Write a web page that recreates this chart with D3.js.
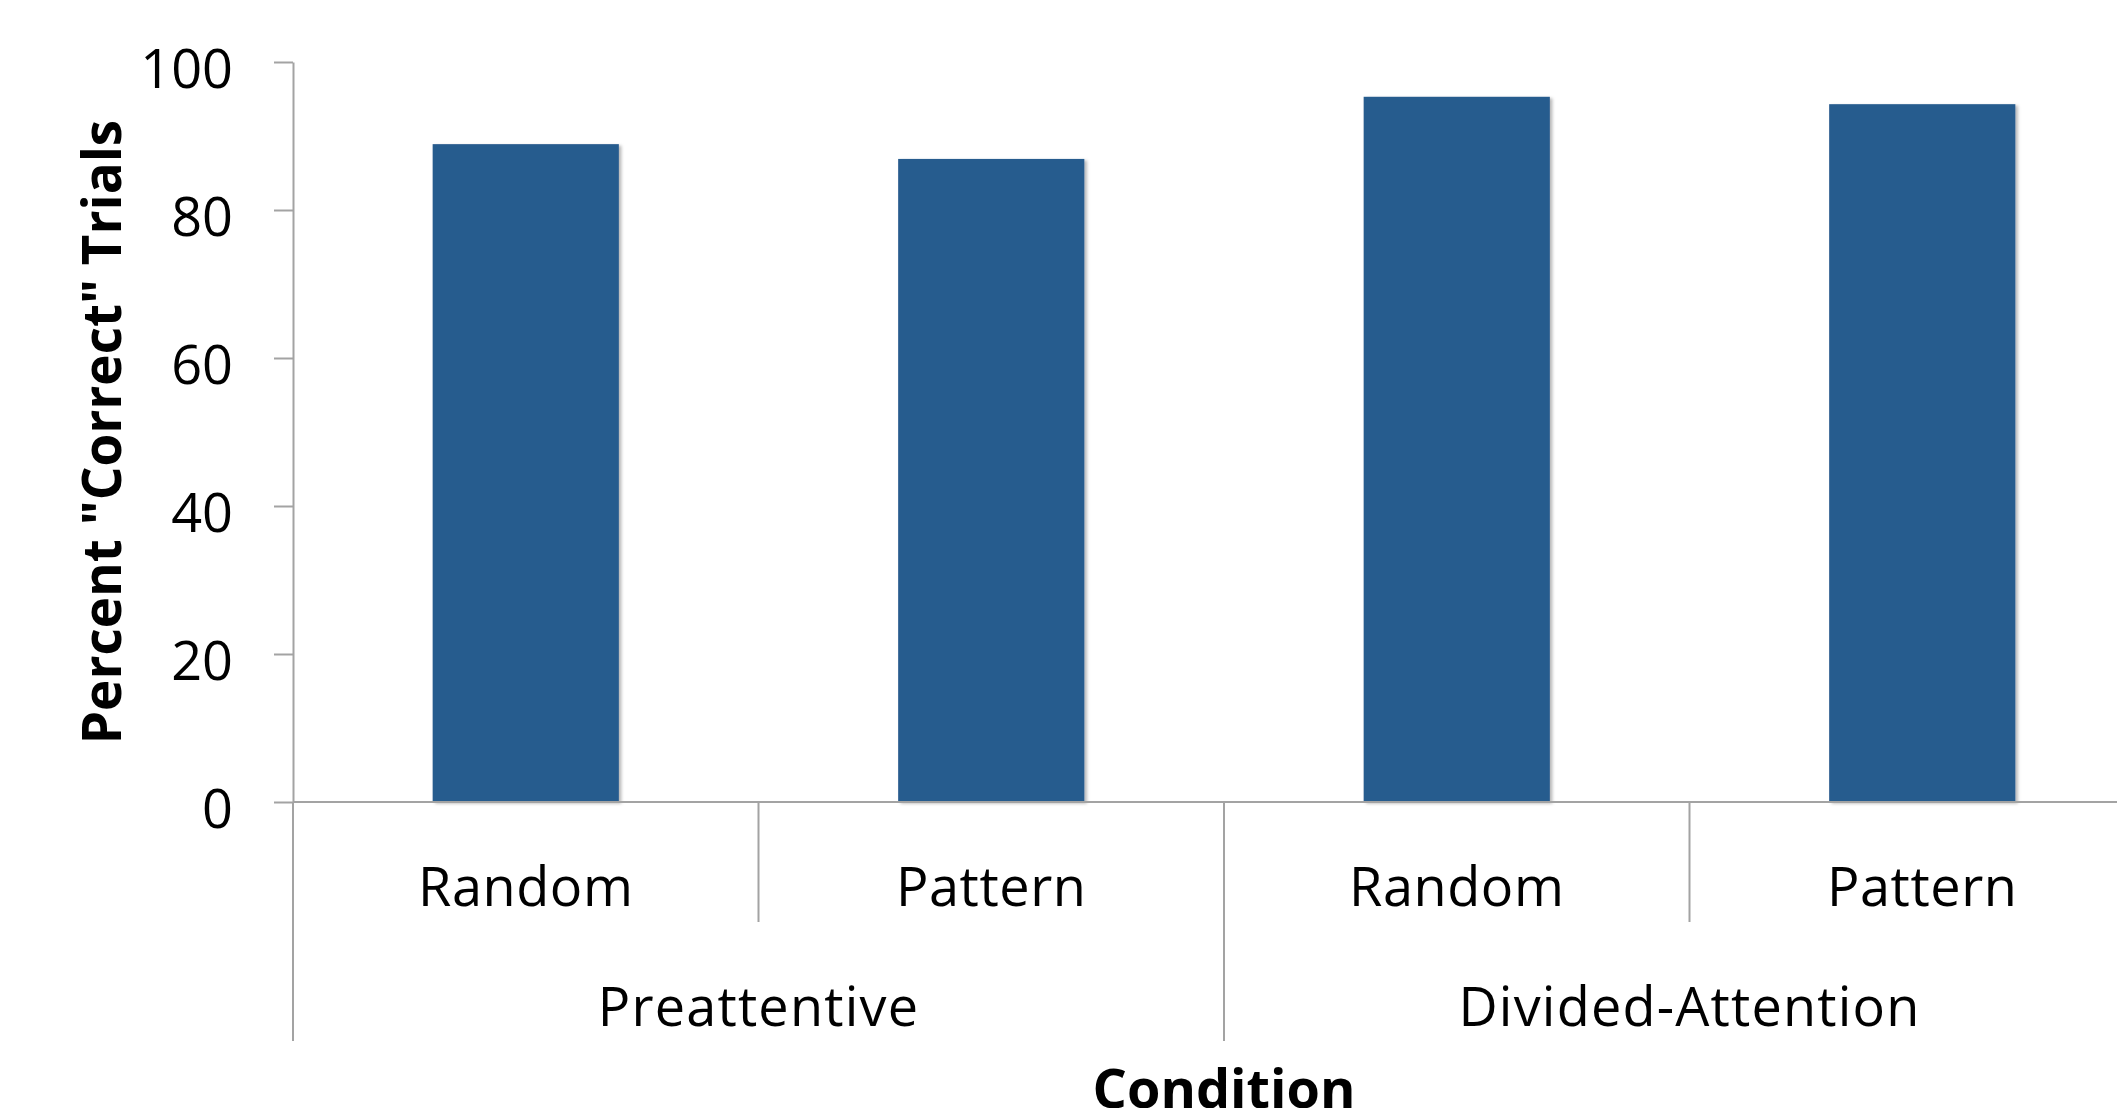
<!DOCTYPE html>
<html>
<head>
<meta charset="utf-8">
<script src="https://cdn.jsdelivr.net/npm/d3@7/dist/d3.min.js"></script>
<style>
  html, body { margin: 0; padding: 0; background: #ffffff; overflow: hidden; }
  svg { display: block; font-family: "Open Sans", "Noto Sans", sans-serif; }
</style>
</head>
<body>
<svg id="chart" width="2117" height="1108"></svg>
<script>
// Percent of "correct" trials by condition and display type
const groups = ["Preattentive", "Divided-Attention"];
const displayTypes = ["Random", "Pattern", "Random", "Pattern"];
const barGroups = ["Preattentive", "Preattentive", "Divided-Attention", "Divided-Attention"];
const percentCorrect = [88.9, 86.9, 95.3, 94.3];
const yTicks = [0, 20, 40, 60, 80, 100];
const yTitle = 'Percent "Correct" Trials';
const xTitle = "Condition";

(function draw() {
  const svg = d3.select("#chart");
  const plotLeft = 293, plotRight = 2155, plotTop = 62, plotBottom = 802;
  const axisColor = "#a3a3a3";
  const barColor = "#285c8e";

  const bars = displayTypes.map((t, i) => ({ key: i, type: t, group: barGroups[i], value: percentCorrect[i] }));

  const x = d3.scaleBand().domain(bars.map(d => d.key)).range([plotLeft, plotRight])
    .paddingInner(0.6).paddingOuter(0.3);
  const xCat = d3.scaleBand().domain(bars.map(d => d.key)).range([plotLeft, plotRight]).padding(0);
  const xGroup = d3.scaleBand().domain(groups).range([plotLeft, plotRight]).padding(0);
  const y = d3.scaleLinear().domain([0, 100]).range([plotBottom, plotTop]);

  const defs = svg.append("defs");
  const f = defs.append("filter").attr("id", "barShadow")
    .attr("x", "-10%").attr("y", "-10%").attr("width", "130%").attr("height", "130%");
  f.append("feDropShadow").attr("dx", 2.5).attr("dy", 1.5).attr("stdDeviation", 1.8)
    .attr("flood-color", "#000").attr("flood-opacity", 0.28);

  // bars
  svg.append("g").selectAll("rect").data(bars).join("rect")
    .attr("x", d => x(d.key))
    .attr("y", d => y(d.value))
    .attr("width", x.bandwidth())
    .attr("height", d => y(0) - y(d.value))
    .attr("fill", barColor)
    .attr("filter", "url(#barShadow)");

  // y axis
  const yAxis = d3.axisLeft(y).tickValues(yTicks).tickSize(19).tickSizeOuter(0).tickPadding(41);
  const gy = svg.append("g").attr("transform", `translate(${plotLeft},0)`).call(yAxis);
  gy.select(".domain").attr("stroke", axisColor).attr("stroke-width", 2);
  gy.selectAll(".tick line").attr("stroke", axisColor).attr("stroke-width", 2);
  gy.selectAll(".tick text")
    .attr("font-family", '"Open Sans", sans-serif')
    .attr("font-size", 54).attr("fill", "#000").attr("dy", "0.47em");

  // x baseline
  svg.append("line")
    .attr("x1", plotLeft).attr("x2", plotRight).attr("y1", y(0)).attr("y2", y(0))
    .attr("stroke", axisColor).attr("stroke-width", 2);

  // category separators (short) and group separators (long)
  const catBounds = d3.range(1, bars.length).filter(i => bars[i].group === bars[i - 1].group);
  svg.append("g").selectAll("line").data(catBounds).join("line")
    .attr("x1", i => xCat(i)).attr("x2", i => xCat(i))
    .attr("y1", y(0)).attr("y2", 922)
    .attr("stroke", axisColor).attr("stroke-width", 2);
  svg.append("g").selectAll("line").data(groups).join("line")
    .attr("x1", g => xGroup(g)).attr("x2", g => xGroup(g))
    .attr("y1", y(0)).attr("y2", 1041)
    .attr("stroke", axisColor).attr("stroke-width", 2);

  // category labels
  svg.append("g").selectAll("text").data(bars).join("text")
    .attr("x", d => xCat(d.key) + xCat.bandwidth() / 2)
    .attr("y", 906)
    .attr("text-anchor", "middle")
    .attr("font-size", 54).attr("letter-spacing", 0.6).attr("fill", "#000")
    .text(d => d.type);

  // group labels
  svg.append("g").selectAll("text").data(groups).join("text")
    .attr("x", g => xGroup(g) + xGroup.bandwidth() / 2)
    .attr("y", 1026)
    .attr("text-anchor", "middle")
    .attr("font-size", 54).attr("letter-spacing", 1.2).attr("fill", "#000")
    .text(g => g);

  // axis titles
  svg.append("text")
    .attr("transform", `translate(121,${(plotTop + plotBottom) / 2}) rotate(-90)`)
    .attr("text-anchor", "middle")
    .attr("font-size", 53).attr("font-weight", "bold").attr("fill", "#000")
    .text(yTitle);

  svg.append("text")
    .attr("x", (plotLeft + plotRight) / 2)
    .attr("y", 1108)
    .attr("text-anchor", "middle")
    .attr("font-size", 54).attr("font-weight", "bold").attr("fill", "#000")
    .text(xTitle);
})();
</script>
</body>
</html>
